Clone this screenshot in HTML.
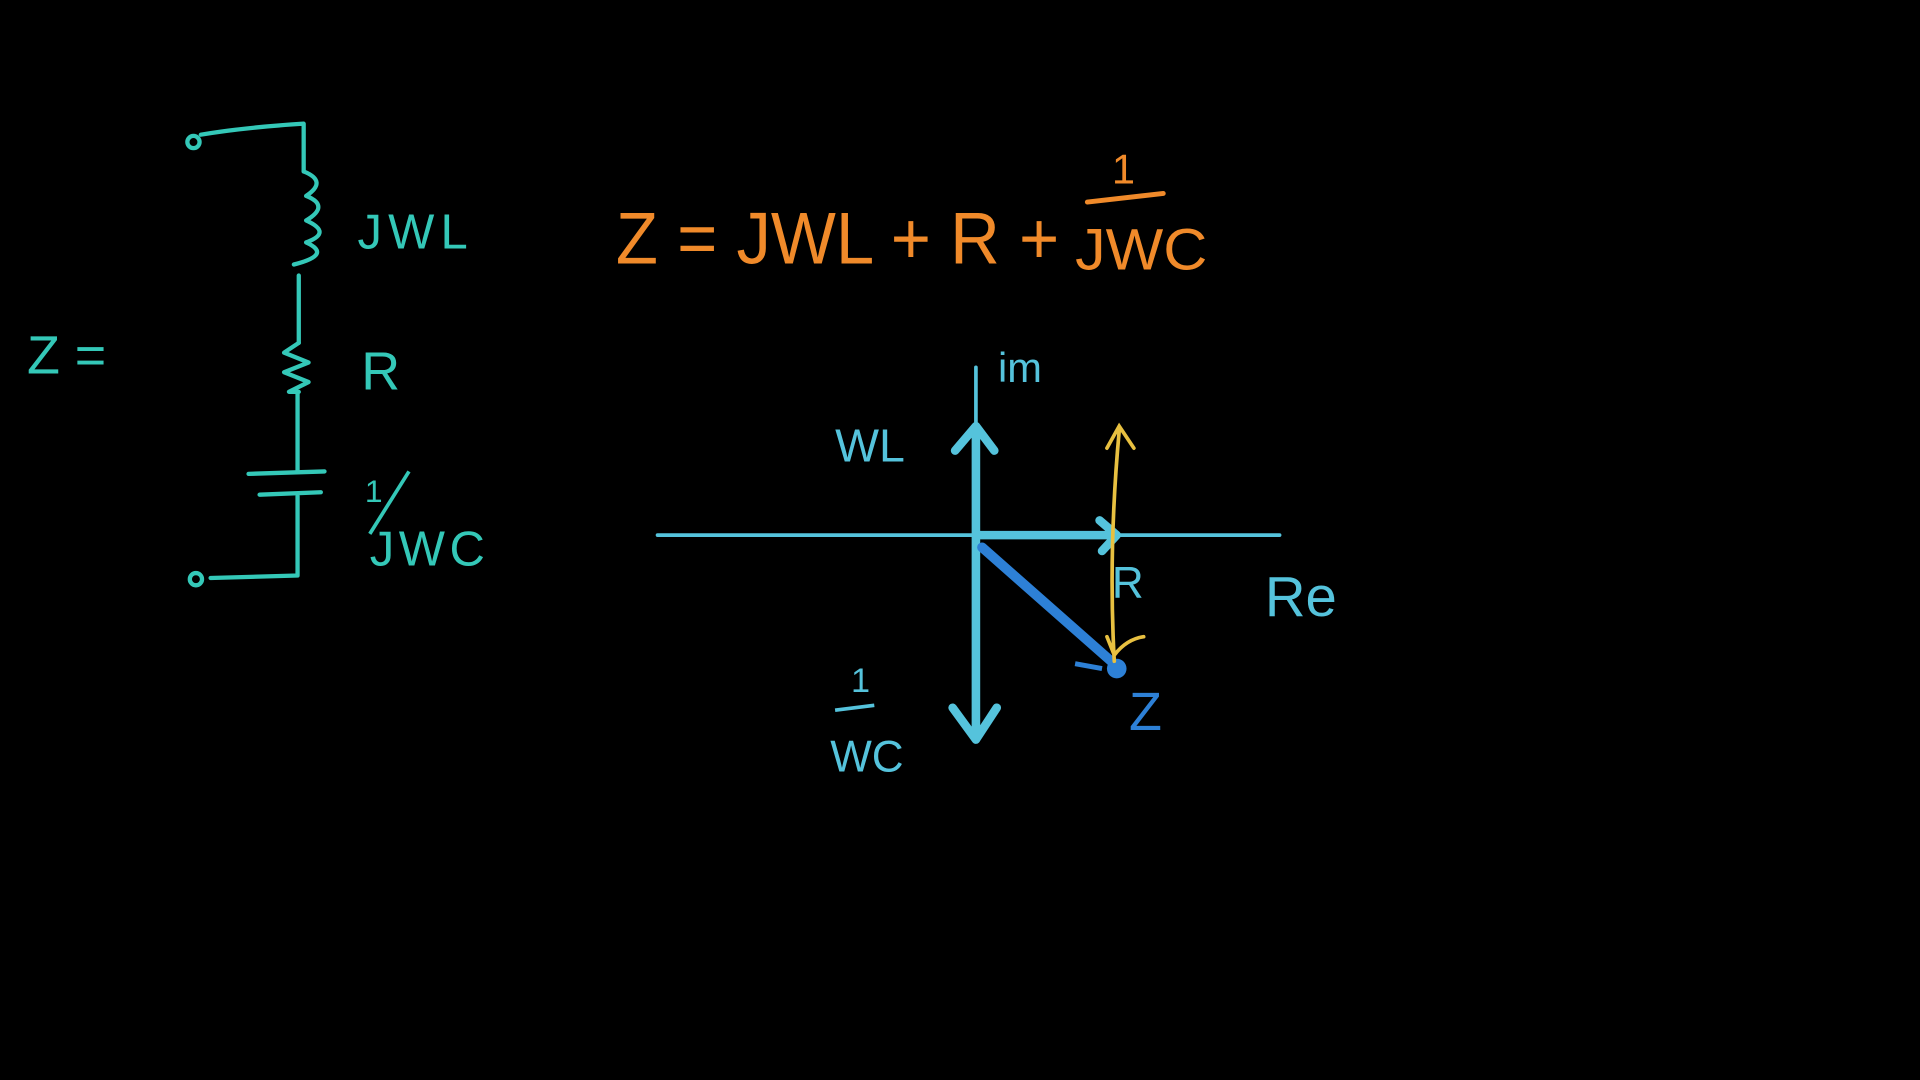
<!DOCTYPE html>
<html>
<head>
<meta charset="utf-8">
<style>
html,body{margin:0;padding:0;background:#000;width:1920px;height:1080px;overflow:hidden}
svg{display:block}
text{font-family:"Liberation Sans",sans-serif}
</style>
</head>
<body>
<svg width="1920" height="1080" viewBox="0 0 1568 882">
  <rect x="0" y="0" width="1568" height="882" fill="#000"/>

  <g fill="none" stroke="#34c8b8" stroke-width="3.5" stroke-linecap="round" stroke-linejoin="round">
    <circle cx="158" cy="116" r="5"/>
    <path d="M164 110 Q200 104 248 101 L248 140"/>
    <path d="M248 140 Q268 148 250 160 Q270 168 250 180 Q272 190 250 198 Q272 208 240 216"/>
    <path d="M244 225 L244 280"/>
    <path d="M244 280 L232 288 L252 296 L232 304 L252 312 L236 320 L244 320"/>
    <path d="M243 322 L243 385"/>
    <path d="M203 387 L265 385 M212 404 L262 402"/>
    <path d="M243 405 L243 470 L172 472"/>
    <circle cx="160" cy="473" r="5"/>
  </g>
  <g fill="#34c8b8" font-size="44">
    <text x="22" y="305">Z =</text>
    <text x="292" y="203" font-size="40" textLength="90">JWL</text>
    <text x="295" y="318">R</text>
    <text x="298" y="410" font-size="26">1</text>
    <line x1="302" y1="436" x2="334" y2="385" stroke="#34c8b8" stroke-width="3"/>
    <text x="302" y="462" font-size="40" textLength="94">JWC</text>
  </g>

  <g fill="#f08a2a">
    <text x="503" y="215" font-size="60" textLength="362" lengthAdjust="spacingAndGlyphs">Z = JWL + R +</text>
    <text x="908" y="150" font-size="34">1</text>
    <line x1="888" y1="165" x2="950" y2="158" stroke="#f08a2a" stroke-width="4" stroke-linecap="round"/>
    <text x="878" y="220" font-size="48" textLength="108" lengthAdjust="spacingAndGlyphs">JWC</text>
  </g>

  <g stroke="#55c3dc" fill="none" stroke-linecap="round">
    <line x1="537" y1="437" x2="1045" y2="437" stroke-width="3"/>
    <line x1="797" y1="300" x2="797" y2="600" stroke-width="3"/>
  </g>
  <text x="815" y="312" fill="#55c3dc" font-size="34">im</text>
  <text x="1033" y="503" fill="#55c3dc" font-size="46">Re</text>

  <g stroke="#55c3dc" fill="none" stroke-width="7" stroke-linecap="round" stroke-linejoin="round">
    <path d="M797 437 L797 352 M780 368 L797 348 L812 368"/>
    <path d="M797 437 L797 604 M778 578 L797 604 L814 578"/>
    <path d="M797 437 L910 437 M898 425 L912 437 L900 450"/>
  </g>
  <text x="682" y="377" fill="#55c3dc" font-size="38">WL</text>
  <text x="695" y="565" fill="#55c3dc" font-size="28">1</text>
  <line x1="682" y1="580" x2="714" y2="576" stroke="#55c3dc" stroke-width="3"/>
  <text x="678" y="630" fill="#55c3dc" font-size="36">WC</text>
  <text x="908" y="488" fill="#55c3dc" font-size="36">R</text>

  <path d="M802 447 L912 544" stroke="#2d80d6" stroke-width="8" stroke-linecap="round" fill="none"/>
  <circle cx="912" cy="546" r="8" fill="#2d80d6"/>
  <line x1="878" y1="542" x2="900" y2="546" stroke="#2d80d6" stroke-width="4"/>
  <text x="922" y="596" fill="#2d80d6" font-size="44">Z</text>

  <path d="M910 540 Q905 450 914 352 M904 366 L914 348 L926 366 M904 520 L910 535 Q920 522 934 520" stroke="#e8c040" stroke-width="3" fill="none" stroke-linecap="round"/>
</svg>
</body>
</html>
